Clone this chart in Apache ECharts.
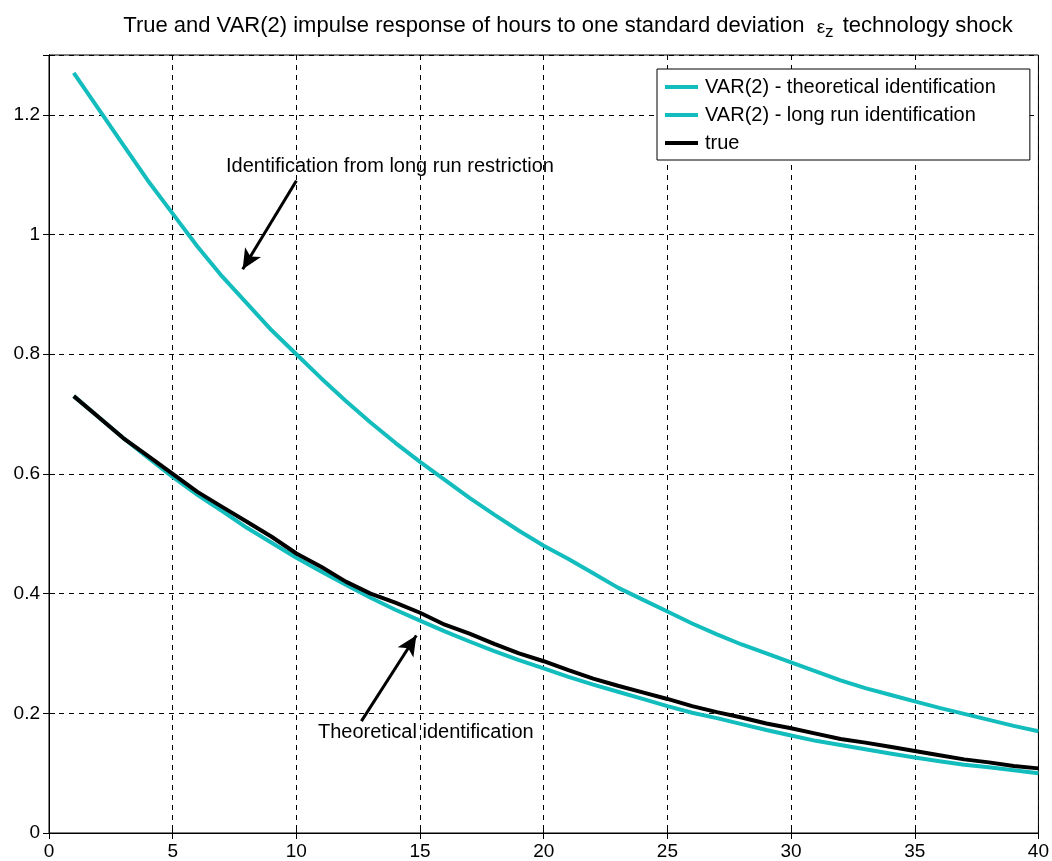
<!DOCTYPE html>
<html>
<head>
<meta charset="utf-8">
<script src="https://cdn.jsdelivr.net/npm/echarts@6/dist/echarts.min.js"></script>
<style>
  html, body { margin: 0; padding: 0; background: #fff; }
  #chart { width: 1052px; height: 861px; }
</style>
</head>
<body>
<div id="chart"></div>
<script>
// horizon 1..40
const horizons = Array.from({ length: 40 }, (_, i) => i + 1)

const theoretical = [0.73, 0.695, 0.66, 0.627, 0.595, 0.565, 0.538, 0.51, 0.485, 0.46,
  0.437, 0.415, 0.393, 0.373, 0.355, 0.337, 0.32, 0.304, 0.289, 0.275,
  0.261, 0.248, 0.236, 0.224, 0.212, 0.201, 0.192, 0.182, 0.172, 0.163,
  0.154, 0.147, 0.14, 0.133, 0.126, 0.12, 0.114, 0.11, 0.105, 0.10]

const longRun = [1.27, 1.21, 1.15, 1.09, 1.035, 0.98, 0.93, 0.885, 0.84, 0.80,
  0.76, 0.722, 0.686, 0.652, 0.62, 0.59, 0.56, 0.532, 0.505, 0.48,
  0.458, 0.434, 0.41, 0.39, 0.37, 0.35, 0.332, 0.315, 0.30, 0.285,
  0.27, 0.255, 0.242, 0.231, 0.22, 0.209, 0.199, 0.189, 0.179, 0.17]

const trueResp = [0.73, 0.695, 0.66, 0.63, 0.60, 0.57, 0.545, 0.52, 0.495, 0.467,
  0.445, 0.42, 0.40, 0.385, 0.368, 0.348, 0.333, 0.316, 0.30, 0.287,
  0.272, 0.258, 0.246, 0.235, 0.224, 0.212, 0.202, 0.193, 0.183, 0.175,
  0.166, 0.157, 0.151, 0.144, 0.137, 0.13, 0.123, 0.118, 0.112, 0.108]

const seriesNames = ['VAR(2) - theoretical identification', 'VAR(2) - long run identification', 'true']

// annotation arrows in data coords
const arrowLongRun = [[10.0, 1.09], [7.83, 0.942]]
const arrowTheory = [[12.63, 0.187], [14.85, 0.33]]

const font = 'Arial, "Liberation Sans", sans-serif'
const cyan = '#14bdbd'

const pair = (xs, ys) => xs.map((x, i) => [x, ys[i]])

const chart = echarts.init(document.getElementById('chart'))

const gridDash = { show: true, lineStyle: { color: '#000', type: [5, 5], width: 1 } }

const arrowLine = (pts) => ({
  silent: true,
  symbol: ['none', 'arrow'],
  symbolSize: [14, 20],
  lineStyle: { color: '#000', width: 3, type: 'solid' },
  label: { show: false },
  data: [[{ coord: pts[0] }, { coord: pts[1] }]]
})

chart.setOption({
  animation: false,
  backgroundColor: '#fff',
  legend: {
    orient: 'vertical',
    left: 657,
    top: 69,
    padding: [7, 34, 6, 8],
    itemGap: 6,
    itemWidth: 33,
    itemHeight: 4,
    icon: 'rect',
    backgroundColor: '#fff',
    borderColor: '#000',
    borderWidth: 1,
    data: seriesNames,
    textStyle: { fontFamily: font, fontSize: 20, color: '#000', lineHeight: 22, padding: [0, 0, 0, 2] }
  },
  grid: { left: 49, right: 12, top: 55, bottom: 27, show: true, borderColor: '#000', borderWidth: 1 },
  xAxis: [{
    type: 'value', min: 0, max: 40, interval: 5,
    axisLine: { show: true, onZero: false, lineStyle: { color: '#000' } },
    axisTick: { show: true, inside: true, length: 6, lineStyle: { color: '#000' } },
    axisLabel: { color: '#000', fontFamily: font, fontSize: 19, margin: 9 },
    splitLine: gridDash
  }, {
    type: 'value', min: 0, max: 40, interval: 5, position: 'top',
    axisLine: { show: true, lineStyle: { color: '#000' } },
    axisTick: { show: true, inside: true, length: 6, lineStyle: { color: '#000' } },
    axisLabel: { show: false },
    splitLine: { show: false }
  }],
  yAxis: [{
    type: 'value', min: 0, max: 1.3, interval: 0.2,
    axisLine: { show: true, lineStyle: { color: '#000' } },
    axisTick: { show: true, inside: true, length: 6, lineStyle: { color: '#000' } },
    axisLabel: {
      color: '#000', fontFamily: font, fontSize: 19, margin: 9,
      formatter: v => (Math.abs(v - 1.3) < 1e-9 ? '' : String(+v.toFixed(1)))
    },
    splitLine: gridDash
  }, {
    type: 'value', min: 0, max: 1.3, interval: 0.2, position: 'right',
    axisLine: { show: true, lineStyle: { color: '#000' } },
    axisTick: { show: true, inside: true, length: 6, lineStyle: { color: '#000' } },
    axisLabel: { show: false },
    splitLine: { show: false }
  }],
  graphic: [{
    type: 'text', x: 568, y: 10,
    style: {
      text: 'True and VAR(2) impulse response of hours to one standard deviation  {e|ε}{z|z} technology shock',
      align: 'center',
      fontFamily: font, fontSize: 22, fill: '#000',
      rich: {
        e: { fontFamily: font, fontSize: 19, fill: '#000', padding: [4, 0, 0, 0] },
        z: { fontFamily: font, fontSize: 17, fill: '#000', padding: [14, 3, 0, 0] }
      }
    }
  }, {
    type: 'text', left: 226, top: 156,
    style: { text: 'Identification from long run restriction', fontFamily: font, fontSize: 20, fill: '#000' }
  }, {
    type: 'text', left: 318, top: 722,
    style: { text: 'Theoretical identification', fontFamily: font, fontSize: 20, fill: '#000' }
  }],
  series: [{
    name: seriesNames[0], type: 'line', showSymbol: false,
    data: pair(horizons, theoretical),
    lineStyle: { color: cyan, width: 4 }, itemStyle: { color: cyan },
    markLine: arrowLine(arrowTheory)
  }, {
    name: seriesNames[1], type: 'line', showSymbol: false,
    data: pair(horizons, longRun),
    lineStyle: { color: cyan, width: 4 }, itemStyle: { color: cyan },
    markLine: arrowLine(arrowLongRun)
  }, {
    name: seriesNames[2], type: 'line', showSymbol: false,
    data: pair(horizons, trueResp),
    lineStyle: { color: '#000', width: 4 }, itemStyle: { color: '#000' }
  }]
})
</script>
</body>
</html>
